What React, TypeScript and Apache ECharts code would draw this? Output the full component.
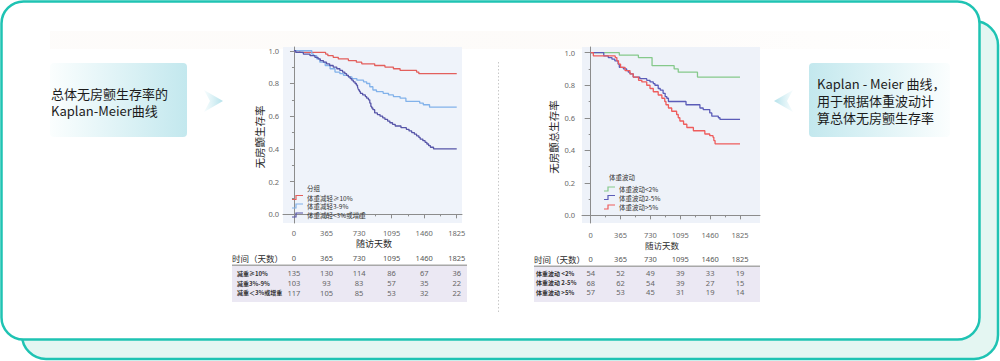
import React, { useEffect, useRef } from "react";
import * as echarts from "echarts";

const DAY_TICKS = [0, 365, 730, 1095, 1460, 1825];
const DAY_MINOR = [182.5, 547.5, 912.5, 1277.5, 1642.5];
const SURV_TICKS = [0, 0.2, 0.4, 0.6, 0.8, 1.0];
const SURV_MINOR = [0.1, 0.3, 0.5, 0.7, 0.9];

// Chart 1: weight loss groups
const lossGroups = ["体重减轻≥10%", "体重减轻3-9%", "体重减轻<3%或增重"];
const loss10: number[][] = [[0,1],[65,0.99],[355,0.98],[380,0.97],[440,0.96],[497,0.95],[610,0.94],[700,0.93],[760,0.92],[905,0.91],[1020,0.90],[1115,0.89],[1190,0.88],[1375,0.87],[1400,0.86],[1825,0.86]];
const loss3to9: number[][] = [[0,1],[200,0.98],[220,0.97],[255,0.95],[290,0.93],[350,0.91],[405,0.89],[460,0.87],[515,0.86],[555,0.85],[610,0.84],[650,0.83],[705,0.82],[780,0.81],[815,0.80],[850,0.78],[885,0.76],[925,0.75],[1000,0.74],[1060,0.73],[1115,0.72],[1190,0.71],[1255,0.69],[1410,0.68],[1450,0.67],[1520,0.655],[1825,0.655]];
const lossLt3: number[][] = [[0,1],[20,0.99],[105,0.98],[180,0.97],[235,0.96],[270,0.95],[295,0.94],[330,0.93],[365,0.92],[400,0.91],[440,0.90],[480,0.89],[515,0.88],[545,0.87],[570,0.86],[590,0.85],[610,0.84],[630,0.83],[648,0.82],[665,0.81],[685,0.80],[700,0.79],[712,0.78],[718,0.77],[725,0.76],[735,0.75],[745,0.74],[770,0.73],[800,0.72],[815,0.71],[835,0.70],[850,0.68],[862,0.66],[872,0.65],[885,0.64],[905,0.62],[935,0.61],[965,0.60],[995,0.59],[1020,0.58],[1050,0.57],[1075,0.56],[1105,0.55],[1135,0.54],[1200,0.53],[1260,0.52],[1290,0.51],[1320,0.50],[1350,0.49],[1375,0.48],[1400,0.47],[1415,0.46],[1445,0.45],[1470,0.44],[1490,0.43],[1510,0.42],[1530,0.41],[1565,0.40],[1825,0.40]];

// Chart 2: weight fluctuation groups
const fluctGroups = ["体重波动<2%", "体重波动2-5%", "体重波动>5%"];
const fluctLt2: number[][] = [[0,1],[350,0.985],[583,0.97],[750,0.92],[1020,0.90],[1070,0.88],[1305,0.85],[1825,0.85]];
const fluct2to5: number[][] = [[0,1],[160,0.98],[215,0.97],[260,0.96],[295,0.95],[335,0.93],[350,0.91],[400,0.90],[440,0.89],[460,0.88],[480,0.87],[520,0.85],[600,0.84],[685,0.83],[725,0.82],[765,0.81],[785,0.80],[825,0.78],[850,0.77],[885,0.75],[910,0.73],[930,0.72],[950,0.70],[1165,0.68],[1335,0.66],[1375,0.65],[1455,0.63],[1480,0.61],[1560,0.60],[1580,0.59],[1825,0.59]];
const fluctGt5: number[][] = [[0,1],[33,0.98],[300,0.97],[320,0.95],[340,0.93],[365,0.91],[420,0.89],[480,0.87],[520,0.85],[585,0.83],[625,0.82],[685,0.80],[725,0.78],[765,0.76],[825,0.74],[870,0.72],[905,0.70],[920,0.68],[950,0.66],[990,0.64],[1050,0.62],[1070,0.60],[1090,0.58],[1135,0.56],[1175,0.54],[1255,0.52],[1395,0.50],[1455,0.49],[1495,0.48],[1505,0.46],[1520,0.44],[1825,0.44]];

// Numbers at risk
const riskLossLabels = ["减重≥10%", "减重3%-9%", "减重＜3%或增重"];
const riskLoss10 = [135, 130, 114, 86, 67, 36];
const riskLoss3to9 = [103, 93, 83, 57, 35, 22];
const riskLossLt3 = [117, 105, 85, 53, 32, 22];
const riskFluctLabels = ["体重波动 <2%", "体重波动 2-5%", "体重波动 >5%"];
const riskFluctLt2 = [54, 52, 49, 39, 33, 19];
const riskFluct2to5 = [68, 62, 54, 39, 27, 15];
const riskFluctGt5 = [57, 53, 45, 31, 19, 14];

const CJK = '"Noto Sans CJK SC", "Noto Sans", sans-serif';
const NUM = '"Noto Sans", "Open Sans", sans-serif';
const TEAL = "#1fc3b3";
const AXIS = "#8c8c8c";

const colors1 = ["#e35f5c", "#82b2ea", "#5755a8"];
const colors2 = ["#85c98b", "#5b5cb8", "#ee5c5c"];

function txt(id: string, text: string, x: number, y: number, size: number, fill: string, opts: any = {}) {
  const align = opts.align || "left";
  const weight = opts.weight || "normal";
  const family = opts.family || CJK;
  return {
    type: "text",
    id,
    x,
    y,
    rotation: opts.rotation || 0,
    z: 50,
    style: {
      text,
      fill,
      font: `${weight} ${size}px ${family}`,
      lineHeight: opts.lineHeight || Math.round(size * 1.15),
      textAlign: align,
      align,
      textVerticalAlign: "middle",
      verticalAlign: "middle",
    },
  };
}

function mainX(gridIndex: number, min: number, max: number, tickLen: number, margin: number) {
  return {
    type: "value", gridIndex, min, max, position: "bottom",
    splitLine: { show: false },
    axisLine: { show: true, lineStyle: { color: AXIS, width: 1 } },
    axisTick: { show: true, customValues: DAY_TICKS, length: tickLen, lineStyle: { color: AXIS } },
    axisLabel: { customValues: DAY_TICKS, fontSize: 7.5, color: "#6a6a6a", margin, fontFamily: NUM, formatter: (v: number) => String(v) },
  };
}
function minorX(gridIndex: number, min: number, max: number) {
  return {
    type: "value", gridIndex, min, max, position: "bottom", offset: 0,
    splitLine: { show: false },
    axisLine: { show: false },
    axisTick: { show: true, customValues: DAY_MINOR, length: 2, lineStyle: { color: AXIS } },
    axisLabel: { show: false },
  };
}
function mainY(gridIndex: number, min: number, max: number, tickLen: number, margin: number) {
  return {
    type: "value", gridIndex, min, max, position: "left",
    splitLine: { show: false },
    axisLine: { show: true, lineStyle: { color: AXIS, width: 1 } },
    axisTick: { show: true, customValues: SURV_TICKS, length: tickLen, lineStyle: { color: AXIS } },
    axisLabel: { customValues: SURV_TICKS, fontSize: 7.5, color: "#6a6a6a", margin, fontFamily: NUM, formatter: (v: number) => v.toFixed(1) },
  };
}
function minorY(gridIndex: number, min: number, max: number) {
  return {
    type: "value", gridIndex, min, max, position: "left", offset: 0,
    splitLine: { show: false },
    axisLine: { show: false },
    axisTick: { show: true, customValues: SURV_MINOR, length: 2, lineStyle: { color: AXIS } },
    axisLabel: { show: false },
  };
}

function km(name: string, data: number[][], color: string, xi: number, yi: number) {
  return {
    type: "line", name, data, step: "end", xAxisIndex: xi, yAxisIndex: yi,
    symbol: "none", showSymbol: false, z: 5,
    lineStyle: { color, width: 1.3 },
    itemStyle: { color },
  };
}

export default function App() {
  const ref = useRef<HTMLDivElement>(null);
  useEffect(() => {
    if (!ref.current) return;
    const chart = echarts.init(ref.current, null, { renderer: "svg" });
    const X1 = [-123, 1884], Y1 = [-0.053, 1.023];
    const X2 = [-106, 2069], Y2 = [-0.047, 1.035];
    chart.setOption({
      animation: false,
      grid: [
        { left: 283, top: 47, width: 179, height: 176, show: true, backgroundColor: "#eff3fa", borderWidth: 0 },
        { left: 582, top: 47, width: 178, height: 176, show: true, backgroundColor: "#eef2f9", borderWidth: 0 },
      ],
      xAxis: [
        mainX(0, X1[0], X1[1], 4, 6),
        minorX(0, X1[0], X1[1]),
        mainX(1, X2[0], X2[1], 4, 8),
        minorX(1, X2[0], X2[1]),
      ],
      yAxis: [
        mainY(0, Y1[0], Y1[1], 4, 4),
        minorY(0, Y1[0], Y1[1]),
        mainY(1, Y2[0], Y2[1], 6, 7),
        minorY(1, Y2[0], Y2[1]),
      ],
      series: [
        km(lossGroups[0], loss10, colors1[0], 0, 0),
        km(lossGroups[1], loss3to9, colors1[1], 0, 0),
        km(lossGroups[2], lossLt3, colors1[2], 0, 0),
        km(fluctGroups[0], fluctLt2, colors2[0], 2, 2),
        km(fluctGroups[1], fluct2to5, colors2[1], 2, 2),
        km(fluctGroups[2], fluctGt5, colors2[2], 2, 2),
      ],
    });

    const col1 = DAY_TICKS.map((d) => chart.convertToPixel({ xAxisIndex: 0 }, d) as number);
    const col2 = DAY_TICKS.map((d) => chart.convertToPixel({ xAxisIndex: 2 }, d) as number);

    const g: any[] = [];
    // cards
    g.push({ type: "rect", id: "backCard", z: -30, shape: { x: 22, y: 21, width: 976, height: 338, r: 24 }, style: { fill: "#e4f6f2", stroke: TEAL, lineWidth: 2.5 } });
    g.push({ type: "rect", id: "frontCard", z: -29, shape: { x: 1.5, y: 1.5, width: 978, height: 338, r: 22 }, style: { fill: "#ffffff", stroke: TEAL, lineWidth: 2.5 } });
    g.push({ type: "rect", id: "strip", z: -28, shape: { x: 50, y: 31, width: 900, height: 18 }, style: { fill: new echarts.graphic.LinearGradient(0, 0, 1, 0, [{ offset: 0, color: "rgba(245,236,228,0.18)" }, { offset: 0.5, color: "rgba(245,236,228,0.22)" }, { offset: 1, color: "rgba(245,236,228,0.06)" }]) } });

    // side boxes
    g.push({ type: "rect", id: "lbox", z: -20, shape: { x: 50, y: 63, width: 137, height: 74, r: 4 }, style: { fill: new echarts.graphic.LinearGradient(0, 0, 1, 0, [{ offset: 0, color: "#fbfefe" }, { offset: 1, color: "#c3e8ee" }]) } });
    g.push(txt("lt1", "总体无房颤生存率的", 51, 93, 13, "#1c1c1c", { lineHeight: 15 }));
    g.push(txt("lt2", "Kaplan-Meier曲线", 51, 110, 13, "#1c1c1c", { lineHeight: 15 }));
    g.push({ type: "polygon", id: "larrow", z: -20, shape: { points: [[204, 90], [223, 101], [204, 112], [210, 101]] }, style: { fill: new echarts.graphic.LinearGradient(0, 0, 1, 0, [{ offset: 0, color: "rgba(200,235,242,0.15)" }, { offset: 1, color: "#b4e1ea" }]) } });

    g.push({ type: "rect", id: "rbox", z: -20, shape: { x: 809, y: 63, width: 141, height: 74, r: 4 }, style: { fill: new echarts.graphic.LinearGradient(0, 0, 1, 0, [{ offset: 0, color: "#c3e8ee" }, { offset: 1, color: "#fbfefe" }]) } });
    g.push(txt("rt1", "Kaplan - Meier 曲线，", 817, 83, 13, "#1c1c1c", { lineHeight: 15 }));
    g.push(txt("rt2", "用于根据体重波动计", 817, 100, 13, "#1c1c1c", { lineHeight: 15 }));
    g.push(txt("rt3", "算总体无房颤生存率", 817, 117, 13, "#1c1c1c", { lineHeight: 15 }));
    g.push({ type: "polygon", id: "rarrow", z: -20, shape: { points: [[793, 90], [774, 101], [793, 112], [787, 101]] }, style: { fill: new echarts.graphic.LinearGradient(0, 0, 1, 0, [{ offset: 0, color: "#b4e1ea" }, { offset: 1, color: "rgba(200,235,242,0.15)" }]) } });

    // separator
    g.push({ type: "line", id: "sep", z: -10, shape: { x1: 498.5, y1: 62, x2: 498.5, y2: 312 }, style: { stroke: "#c8c8c8", lineWidth: 1, lineDash: [1.5, 2] } });

    // axis titles
    g.push(txt("y1t", "无房颤生存率", 259, 137, 10.5, "#2a2a2a", { align: "center", rotation: Math.PI / 2 }));
    g.push(txt("x1t", "随访天数", 374, 243, 9, "#2a2a2a", { align: "center" }));
    g.push(txt("y2t", "无房颤总生存率", 553, 137, 10.5, "#2a2a2a", { align: "center", rotation: Math.PI / 2 }));
    g.push(txt("x2t", "随访天数", 662, 245, 8.5, "#2a2a2a", { align: "center" }));

    // legends
    const step = (x: number, y: number) => [[x, y + 2], [x + 4, y + 2], [x + 4, y - 2], [x + 11, y - 2]];
    g.push(txt("lg1t", "分组", 307, 188, 6.5, "#333"));
    const lg1y = [197.5, 206, 215];
    lossGroups.forEach((name, i) => {
      g.push({ type: "polyline", id: "lg1i" + i, z: 50, shape: { points: step(292, lg1y[i]) }, style: { stroke: colors1[i], lineWidth: 1.2, fill: "none" } });
      g.push(txt("lg1n" + i, name, 307, lg1y[i], 6.5, "#333"));
    });
    g.push(txt("lg2t", "体重波动", 609, 177, 6.5, "#333"));
    const lg2y = [189, 197.5, 207];
    fluctGroups.forEach((name, i) => {
      g.push({ type: "polyline", id: "lg2i" + i, z: 50, shape: { points: step(604, lg2y[i]) }, style: { stroke: colors2[i], lineWidth: 1.2, fill: "none" } });
      g.push(txt("lg2n" + i, name, 619, lg2y[i], 6.5, "#333"));
    });

    // risk tables
    const table = (pfx: string, x0: number, x1: number, headY: number, sepY: number, rowY: number[], cols: number[], labels: string[], rows: number[][], labelX: number) => {
      g.push({ type: "rect", id: pfx + "bg", z: -5, shape: { x: x0, y: sepY, width: x1 - x0, height: 302 - sepY }, style: { fill: "#ebe8f3" } });
      g.push({ type: "rect", id: pfx + "sep", z: -4, shape: { x: x0, y: sepY - 1, width: x1 - x0, height: 1.5 }, style: { fill: "#a8a8a8" } });
      g.push(txt(pfx + "h", "时间（天数）", x0, headY, 8.5, "#2a2a2a"));
      DAY_TICKS.forEach((d, j) => g.push(txt(pfx + "hc" + j, String(d), cols[j], headY, 7.5, "#555", { align: "center", family: NUM })));
      rows.forEach((r, i) => {
        g.push(txt(pfx + "rl" + i, labels[i], labelX, rowY[i], 6, "#333", { weight: "bold" }));
        r.forEach((v, j) => g.push(txt(pfx + "v" + i + "_" + j, String(v), cols[j], rowY[i], 7.5, "#666", { align: "center", family: NUM })));
      });
    };
    table("t1", 232, 467, 258, 265.5, [273.3, 283.3, 292.7], col1, riskLossLabels, [riskLoss10, riskLoss3to9, riskLossLt3], 237);
    table("t2", 534, 760, 259, 266.5, [273, 282.7, 292], col2, riskFluctLabels, [riskFluctLt2, riskFluct2to5, riskFluctGt5], 536);

    chart.setOption({ graphic: { elements: g } });
    return () => chart.dispose();
  }, []);
  return <div ref={ref} style={{ position: "absolute", left: 0, top: 0, width: 1000, height: 361 }} />;
}
